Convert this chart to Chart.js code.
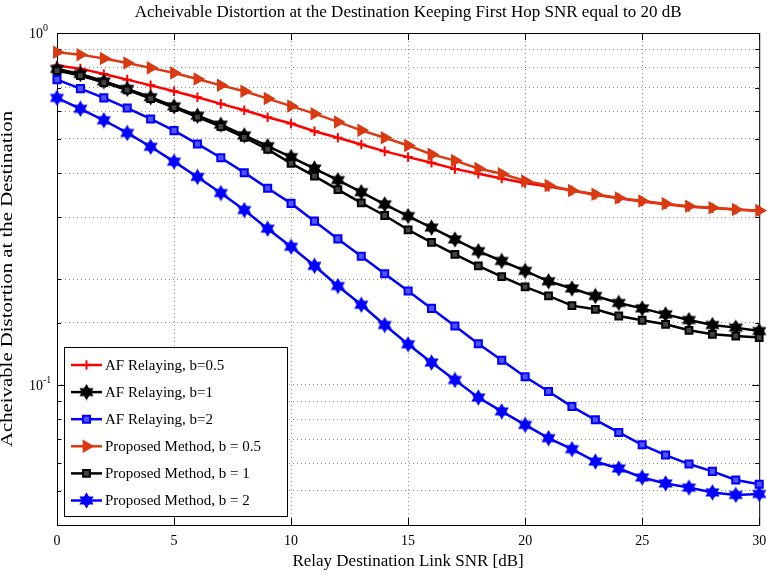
<!DOCTYPE html>
<html>
<head>
<meta charset="utf-8">
<script src="https://cdn.jsdelivr.net/npm/chart.js@4.4.1/dist/chart.umd.min.js"></script>
<style>
  html, body { margin: 0; padding: 0; background: #fff; }
  #wrap { width: 767px; height: 578px; }
</style>
</head>
<body>
<div id="wrap"><canvas id="grafico" width="767" height="578"></canvas></div>
<script>
// eixo x: SNR do enlace relay-destino (dB)
const snr = [0, 1, 2, 3, 4, 5, 6, 7, 8, 9, 10, 11, 12, 13, 14, 15, 16, 17, 18, 19, 20,
  21, 22, 23, 24, 25, 26, 27, 28, 29, 30];

const afB05 = [0.808, 0.792, 0.765, 0.737, 0.710, 0.683, 0.657, 0.629, 0.603, 0.576, 0.553,
  0.526, 0.504, 0.482, 0.461, 0.444, 0.428, 0.411, 0.398, 0.386, 0.375,
  0.366, 0.357, 0.347, 0.339, 0.332, 0.326, 0.321, 0.318, 0.315, 0.312];
const afB1 = [0.790, 0.765, 0.729, 0.694, 0.657, 0.619, 0.582, 0.549, 0.512, 0.477, 0.444,
  0.412, 0.382, 0.353, 0.326, 0.302, 0.280, 0.259, 0.240, 0.225, 0.211,
  0.197, 0.188, 0.179, 0.171, 0.165, 0.1587, 0.1529, 0.148, 0.1455, 0.1423];
const afB2 = [0.737, 0.695, 0.654, 0.612, 0.570, 0.528, 0.484, 0.442, 0.401, 0.362, 0.328,
  0.292, 0.260, 0.232, 0.207, 0.185, 0.165, 0.147, 0.131, 0.1175, 0.1055,
  0.0958, 0.0868, 0.0796, 0.0733, 0.0676, 0.0632, 0.0596, 0.0568, 0.0537, 0.0522];
const propB05 = [0.881, 0.868, 0.846, 0.822, 0.796, 0.770, 0.740, 0.710, 0.683, 0.651, 0.620,
  0.590, 0.559, 0.529, 0.504, 0.479, 0.452, 0.434, 0.412, 0.398, 0.380,
  0.369, 0.357, 0.348, 0.340, 0.333, 0.327, 0.322, 0.319, 0.315, 0.313];
const propB1 = [0.782, 0.757, 0.723, 0.689, 0.651, 0.614, 0.577, 0.542, 0.505, 0.467, 0.426,
  0.392, 0.359, 0.329, 0.303, 0.276, 0.254, 0.235, 0.218, 0.203, 0.190,
  0.179, 0.168, 0.164, 0.157, 0.1527, 0.1487, 0.143, 0.1393, 0.1377, 0.1363];
const propB2 = [0.654, 0.609, 0.565, 0.520, 0.475, 0.431, 0.390, 0.351, 0.314, 0.278, 0.247,
  0.218, 0.191, 0.169, 0.148, 0.1305, 0.1158, 0.1033, 0.0921, 0.0841, 0.0770,
  0.0706, 0.0657, 0.0606, 0.0579, 0.0546, 0.0525, 0.0511, 0.0495, 0.0487, 0.0490];

const nomes = ["AF Relaying, b=0.5", "AF Relaying, b=1", "AF Relaying, b=2",
  "Proposed Method, b = 0.5", "Proposed Method, b = 1", "Proposed Method, b = 2"];
const series = [afB05, afB1, afB2, propB05, propB1, propB2];

const decadas = [1, 0.1];
const expoentes = ["0", "-1"];

const fonte = "'Liberation Serif', 'Times New Roman', serif";

// marcador hexagrama (estrela de 6 pontas)
function hexagrama(cor) {
    const c = document.createElement("canvas");
    c.width = 17; c.height = 17;
    const g = c.getContext("2d");
    const r = 7;
    g.fillStyle = cor; g.strokeStyle = cor; g.lineWidth = 1.2;
    [-Math.PI / 2, Math.PI / 2].forEach(ini => {
        g.beginPath();
        for (let k = 0; k < 3; k++) {
            const a = ini + k * 2 * Math.PI / 3;
            g.lineTo(8.5 + r * Math.cos(a), 8.5 + r * Math.sin(a));
        }
        g.closePath(); g.fill(); g.stroke();
    });
    return c;
}

const estilos = [
    {cor: "#ff0000", fundo: "#ff0000", ponto: "cross", raio: 4.8, rot: 0, borda: 2},
    {cor: "#000000", fundo: "#000000", ponto: hexagrama("#000000"), raio: 6, rot: 0, borda: 1},
    {cor: "#0000ff", fundo: "#5252ff", ponto: "rect", raio: 5, rot: 0, borda: 2},
    {cor: "#d93a12", fundo: "#d93a12", ponto: "triangle", raio: 6.3, rot: 90, borda: 1.5},
    {cor: "#000000", fundo: "#444444", ponto: "rect", raio: 4.8, rot: 0, borda: 2},
    {cor: "#0000ff", fundo: "#0000ff", ponto: hexagrama("#0000ff"), raio: 6, rot: 0, borda: 1}
];

const datasets = series.map((valores, i) => ({
    label: nomes[i],
    data: valores.map((v, j) => ({x: snr[j], y: v})),
    borderColor: estilos[i].cor,
    backgroundColor: estilos[i].fundo,
    borderWidth: 2.5,
    pointStyle: estilos[i].ponto,
    pointRadius: estilos[i].raio,
    pointRotation: estilos[i].rot,
    pointBorderWidth: estilos[i].borda,
    pointBorderColor: estilos[i].cor,
    pointBackgroundColor: estilos[i].fundo,
    tension: 0,
    clip: false,
    order: series.length - 1 - i
}));

const moldura = {
    id: "moldura",
    beforeDatasetsDraw(chart) {
        const {ctx, chartArea: a, scales: {x, y}} = chart;
        ctx.save();
        ctx.strokeStyle = "#000";
        ctx.lineWidth = 1;
        ctx.strokeRect(a.left + 0.5, a.top + 0.5, a.right - a.left, a.bottom - a.top);
        ctx.beginPath();
        y.ticks.forEach(t => {
            const py = Math.round(y.getPixelForValue(t.value)) + 0.5;
            const len = decadas.some(d => Math.abs(d - t.value) < 1e-9) ? 7 : 4;
            ctx.moveTo(a.left, py); ctx.lineTo(a.left + len, py);
            ctx.moveTo(a.right, py); ctx.lineTo(a.right - len, py);
        });
        x.ticks.forEach(t => {
            const px = Math.round(x.getPixelForValue(t.value)) + 0.5;
            ctx.moveTo(px, a.bottom); ctx.lineTo(px, a.bottom - 7);
            ctx.moveTo(px, a.top); ctx.lineTo(px, a.top + 7);
        });
        ctx.stroke();
        ctx.restore();
    },
    afterDraw(chart) {
        const {ctx, chartArea: a, scales: {y}} = chart;
        ctx.save();
        ctx.fillStyle = "#000";

        // rotulos 10^n do eixo y
        decadas.forEach((d, i) => {
            const py = y.getPixelForValue(d);
            ctx.font = "14px " + fonte;
            ctx.textAlign = "right";
            ctx.textBaseline = "middle";
            ctx.fillText("10", 43, py + 1);
            ctx.font = "10px " + fonte;
            ctx.textAlign = "left";
            ctx.textBaseline = "alphabetic";
            ctx.fillText(expoentes[i], 43, py - 2);
        });

        // titulo do eixo y
        ctx.save();
        ctx.translate(8, (a.top + a.bottom) / 2);
        ctx.rotate(-Math.PI / 2);
        ctx.scale(1.3, 1);
        ctx.font = "16px " + fonte;
        ctx.textAlign = "center";
        ctx.textBaseline = "middle";
        ctx.fillText("Acheivable Distortion at the Destination", 0, 0);
        ctx.restore();

        // legenda
        const lx = 64, ly = 347, lw = 223, lh = 169;
        ctx.fillStyle = "#fff";
        ctx.fillRect(lx, ly, lw, lh);
        ctx.strokeStyle = "#000";
        ctx.lineWidth = 1;
        ctx.strokeRect(lx + 0.5, ly + 0.5, lw, lh);
        nomes.forEach((nome, i) => {
            const yy = 365 + i * 27.1;
            const e = estilos[i];
            ctx.strokeStyle = e.cor;
            ctx.lineWidth = 2.5;
            ctx.beginPath();
            ctx.moveTo(71, yy); ctx.lineTo(102, yy);
            ctx.stroke();
            ctx.fillStyle = e.fundo;
            ctx.lineWidth = e.borda;
            Chart.helpers.drawPoint(ctx, {pointStyle: e.ponto, radius: e.raio, rotation: e.rot, borderWidth: e.borda}, 86.5, yy);
            ctx.fillStyle = "#000";
            ctx.font = "15px " + fonte;
            ctx.textAlign = "left";
            ctx.textBaseline = "middle";
            ctx.fillText(nome, 105, yy + 1);
        });
        ctx.restore();
    }
};

new Chart(document.getElementById("grafico"), {
    type: "line",
    data: {datasets: datasets},
    options: {
        responsive: false,
        animation: false,
        events: [],
        layout: {padding: 0},
        plugins: {
            legend: {display: false},
            tooltip: {enabled: false},
            title: {
                display: true,
                fullSize: false,
                text: "Acheivable Distortion at the Destination Keeping First Hop SNR equal to 20 dB",
                color: "#000",
                font: {family: fonte, size: 17, weight: "normal"},
                padding: {top: 2, bottom: 10.6}
            }
        },
        scales: {
            x: {
                type: "linear",
                min: 0,
                max: 30,
                ticks: {stepSize: 5, color: "#000", font: {family: fonte, size: 14}, padding: 8, autoSkip: false, maxRotation: 0},
                grid: {color: "#8c8c8c", lineWidth: 1, drawTicks: false},
                border: {display: false, dash: [1, 3]},
                title: {
                    display: true,
                    text: "Relay Destination Link SNR [dB]",
                    color: "#000",
                    font: {family: fonte, size: 17},
                    padding: {top: 0, bottom: 6}
                },
                afterFit(s) {
                    s.height = 53;
                    s.paddingLeft = 0;
                    s.paddingRight = 7;
                }
            },
            y: {
                type: "logarithmic",
                min: 0.04,
                max: 1,
                ticks: {display: false},
                grid: {color: "#8c8c8c", lineWidth: 1, drawTicks: false},
                border: {display: false, dash: [1, 3]},
                afterFit(s) { s.width = 57; }
            }
        }
    },
    plugins: [moldura]
});
</script>
</body>
</html>
